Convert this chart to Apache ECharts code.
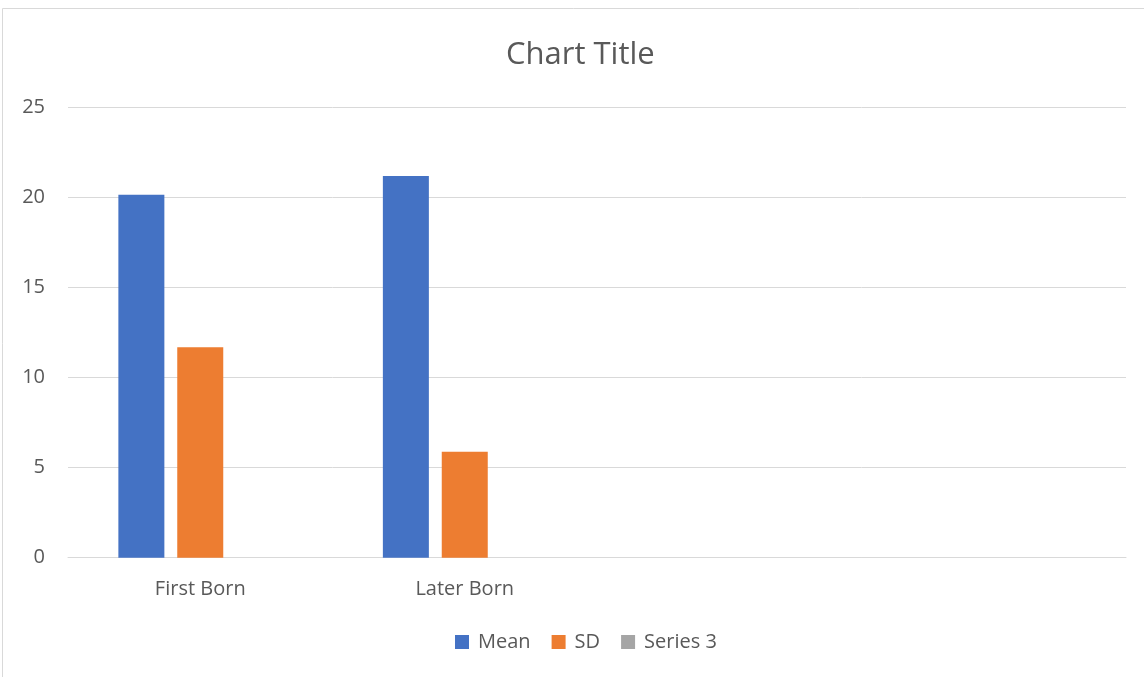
<!DOCTYPE html>
<html>
<head>
<meta charset="utf-8">
<style>
  html, body { margin: 0; padding: 0; background: #ffffff; }
  #chart { width: 1144px; height: 677px; }
</style>
<script src="https://cdn.jsdelivr.net/npm/echarts@6/dist/echarts.min.js"></script>
</head>
<body>
<div id="chart"></div>
<script>
// Categories on the x axis (the last two are empty slots)
const categories = ['First Born', 'Later Born', '', ''];
// Series values per category
const meanValues = [20.15, 21.2, null, null];
const sdValues = [11.68, 5.88, null, null];
const series3Values = [null, null, null, null];
const seriesNames = ['Mean', 'SD', 'Series 3'];
const yTicks = { min: 0, max: 25, interval: 5 };

const textColor = '#595959';
const gridColor = '#D9D9D9';
const fontFamily = '"Open Sans", "Noto Sans", sans-serif';

const chart = echarts.init(document.getElementById('chart'), null, { renderer: 'canvas' });

chart.setOption({
  animation: false,
  color: ['#4472C4', '#ED7D31', '#A5A5A5'],
  textStyle: { fontFamily: fontFamily, color: textColor },
  graphic: [{
    type: 'rect',
    shape: { x: 2.5, y: 8.5, width: 1160, height: 700 },
    style: { fill: 'none', stroke: gridColor, lineWidth: 1 },
    silent: true,
    z: -1
  }],
  title: {
    text: 'Chart Title',
    left: 501,
    top: 35,
    textStyle: { fontFamily: fontFamily, fontSize: 31, fontWeight: 'normal', color: textColor }
  },
  legend: {
    data: seriesNames,
    bottom: 20,
    left: 450,
    itemWidth: 14,
    itemHeight: 14,
    itemGap: 21,
    icon: 'rect',
    textStyle: { fontFamily: fontFamily, fontSize: 20, color: textColor, padding: [0, 0, 0, 4] }
  },
  grid: { left: 68, right: 18, top: 107.5, bottom: 119.3, containLabel: false },
  xAxis: {
    type: 'category',
    data: categories,
    axisLine: { lineStyle: { color: gridColor, width: 1 } },
    axisTick: { show: false },
    axisLabel: { color: textColor, fontSize: 20, margin: 22, fontFamily: fontFamily }
  },
  yAxis: {
    type: 'value',
    min: yTicks.min,
    max: yTicks.max,
    interval: yTicks.interval,
    axisLine: { show: false },
    axisTick: { show: false },
    axisLabel: { color: textColor, fontSize: 20, margin: 23, fontFamily: fontFamily },
    splitLine: { lineStyle: { color: gridColor, width: 1 } }
  },
  series: [
    { name: seriesNames[0], type: 'bar', data: meanValues, barWidth: 46, barGap: '28%' },
    { name: seriesNames[1], type: 'bar', data: sdValues, barWidth: 46, barGap: '28%' },
    { name: seriesNames[2], type: 'bar', data: series3Values, barWidth: 46, barGap: '28%' }
  ]
});
</script>
</body>
</html>
